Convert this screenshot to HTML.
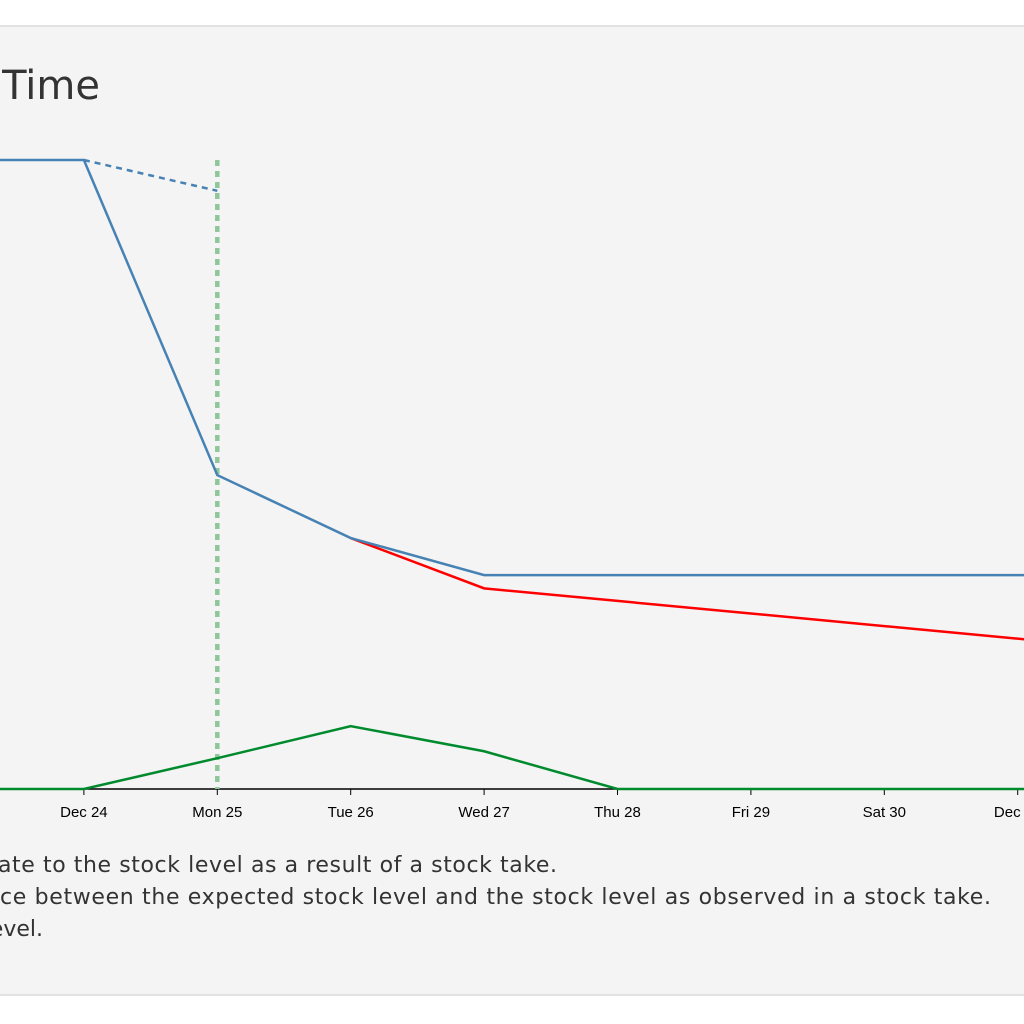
<!DOCTYPE html>
<html><head><meta charset="utf-8"><style>
html,body{margin:0;padding:0;background:#fff;width:1024px;height:1024px;overflow:hidden}
svg{display:block}
</style></head><body>
<svg id="chart" width="1024" height="1024">
<rect x="0" y="0" width="1024" height="1024" fill="#fff"/>
<rect x="-2" y="26" width="1028" height="969" fill="#f4f4f4" stroke="#e2e2e2" stroke-width="2"/>
<text x="100" y="99" text-anchor="end" font-family="'DejaVu Sans','Liberation Sans',sans-serif" font-size="40" fill="#333">Stock Level Over Time</text>
<g id="plot"></g>
<g font-family="'DejaVu Sans','Liberation Sans',sans-serif" font-size="22" fill="#333">
<text x="-2" y="872" textLength="559" lengthAdjust="spacing">ate to the stock level as a result of a stock take.</text>
<text x="0" y="904" textLength="991" lengthAdjust="spacing">ce between the expected stock level and the stock level as observed in a stock take.</text>
<text x="43" y="936" text-anchor="end">evel.</text>
</g>
</svg>
<script>
const categories = ["Dec 23","Dec 24","Mon 25","Tue 26","Wed 27","Thu 28","Fri 29","Sat 30","Dec 31","Jan 1"];
const tickLabels = ["Dec 24","Mon 25","Tue 26","Wed 27","Thu 28","Fri 29","Sat 30","Dec 31"];
const stockLevel = [100,100,49.9,39.9,34,34,34,34,34,34];
const expectedLevel = [null,100,95.1,null,null,null,null,null,null,null];
const adjustedLevel = [null,null,null,39.9,31.9,29.9,27.9,25.9,23.9,21.9];
const discrepancy = [0,0,4.9,10,6,0,0,0,0,0];
const stockTakeIndex = 2;

const NS="http://www.w3.org/2000/svg";
const x0=-49.5, step=133.4, yBase=789, k=6.29;
function xScale(i){return x0+i*step;}
function yScale(v){return yBase-v*k;}
const plot=document.getElementById('plot');
function mk(tag,attrs){const e=document.createElementNS(NS,tag);for(const a in attrs)e.setAttribute(a,attrs[a]);return e;}
function line(vals,color,dash,name){
  let d="";vals.forEach((v,i)=>{if(v===null)return;d+=(d?"L":"M")+xScale(i)+","+yScale(v);});
  const p=mk('path',{d:d,fill:'none',stroke:color,'stroke-width':2.5});
  if(dash)p.setAttribute('stroke-dasharray',dash);
  
  
  plot.appendChild(p);
}
const ax=mk('line',{x1:0,x2:1024,y1:yBase,y2:yBase,stroke:'#000','stroke-width':1.5});


plot.appendChild(ax);
tickLabels.forEach((t,j)=>{
  const x=xScale(j+1);
  const tk=mk('line',{x1:x,x2:x,y1:yBase,y2:yBase+6,stroke:'#000','stroke-width':1});
  
  
  plot.appendChild(tk);
  const tx=mk('text',{x:x,y:yBase+28,'text-anchor':'middle','font-family':"'Liberation Sans',sans-serif",'font-size':15,fill:'#000'});
  tx.textContent=t;
  
  
  plot.appendChild(tx);
});
const sx=xScale(stockTakeIndex);
const vl=mk('line',{x1:sx,x2:sx,y1:yScale(100),y2:yBase,stroke:'#8fc79a','stroke-width':4.5,'stroke-dasharray':'6,5'});


plot.appendChild(vl);
line(expectedLevel,'#4682b4','6,5','expected-level-line');
line(adjustedLevel,'#ff0000',null,'adjusted-level-line');
line(stockLevel,'#4682b4',null,'stock-level-line');
line(discrepancy,'#008a2e',null,'discrepancy-line');
</script>
</body></html>
